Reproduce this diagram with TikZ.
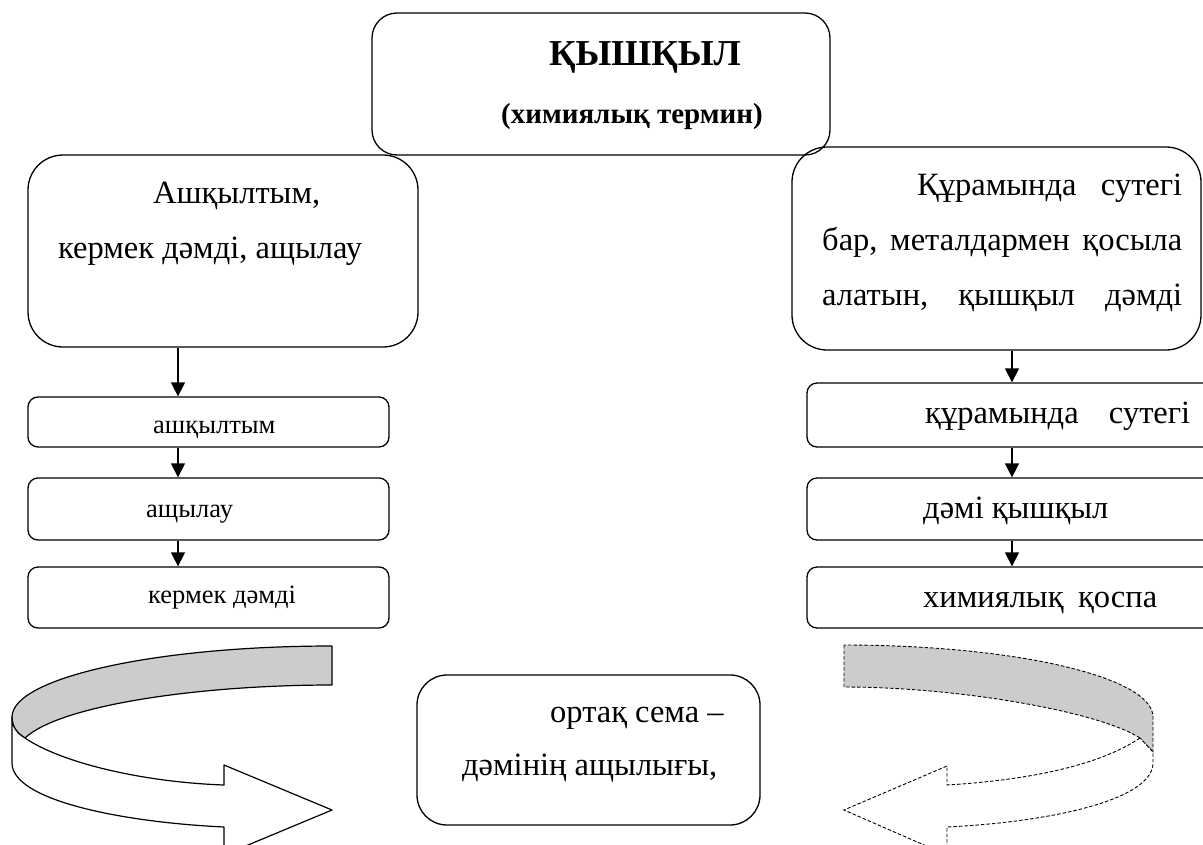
\documentclass[tikz,border=0pt]{standalone}
\usepackage{fontspec}
\setmainfont{Liberation Serif}
\usetikzlibrary{arrows.meta}
\tikzset{
  box/.style={draw, line width=1.3pt, rounded corners=#1, inner sep=0pt},
  box/.default=10pt,
  txt/.style={inner sep=0pt, anchor=base west},
  body/.style={font=\fontsize{32.5}{38}\selectfont},
  small/.style={font=\fontsize{26.5}{30}\selectfont},
  conn/.style={line width=1.3pt, -{Triangle[length=14pt,width=14pt]}},
  ribbon/.style={line width=1.2pt, line join=round},
  dribbon/.style={line width=0.9pt, dash pattern=on 3.5pt off 2pt},
}
\begin{document}
\begin{tikzpicture}[x=1pt,y=-1pt]
\useasboundingbox (0,0) rectangle (1203,844);
\clip (0,0) rectangle (1203,844);

% boxes
\node[box=25pt, minimum width=458pt, minimum height=142pt] (top) at (601,84) {};
\node[box=35pt, minimum width=390pt, minimum height=192pt] (lb) at (223,251) {};
\node[box=35pt, minimum width=409pt, minimum height=203pt] (rb) at (996.5,248.5) {};
\node[box, minimum width=361pt, minimum height=50pt] (l1) at (208.5,422) {};
\node[box, minimum width=361pt, minimum height=62pt] (l2) at (208.5,509) {};
\node[box, minimum width=361pt, minimum height=61pt] (l3) at (208.5,597.5) {};
\node[box, minimum width=408pt, minimum height=64pt] (r1) at (1011,415) {};
\node[box, minimum width=408pt, minimum height=62pt] (r2) at (1011,509) {};
\node[box, minimum width=408pt, minimum height=61pt] (r3) at (1011,597.5) {};
\node[box=30pt, minimum width=343pt, minimum height=150pt] (mid) at (588.5,750) {};

% texts
\node[inner sep=0pt, anchor=base, font=\fontsize{36.5}{40}\selectfont\bfseries] (title) at (645,65) {ҚЫШҚЫЛ};
\node[inner sep=0pt, anchor=base, font=\fontsize{29}{32}\selectfont\bfseries] (sub) at (632,123) {(химиялық термин)};

\node[txt, body] (lt1) at (153,203) {Ашқылтым,};
\node[txt, body] (lt2) at (58,258) {кермек дәмді, ащылау};

\node[txt, body] (rt1) at (917,195) {\makebox[265pt]{Құрамында\hfill сутегі}};
\node[txt, body] (rt2) at (822,250) {\makebox[360pt]{бар,\hfill металдармен\hfill қосыла}};
\node[txt, body] (rt3) at (822,305) {\makebox[360pt]{алатын,\hfill қышқыл\hfill дәмді}};

\node[txt, small] (l1t) at (153,433) {ашқылтым};
\node[txt, small] (l2t) at (146,517) {ащылау};
\node[txt, small] (l3t) at (148,603) {кермек дәмді};

\node[txt, body] (r1t) at (925,423) {\makebox[265pt]{құрамында\hfill сутегі}};
\node[txt, body] (r2t) at (923,518) {дәмі қышқыл};
\node[txt, body] (r3t) at (923,607) {\makebox[234pt]{химиялық\hfill қоспа}};

\node[txt, body] (m1) at (550,722) {ортақ сема –};
\node[txt, body] (m2) at (462,775) {дәмінің ащылығы,};

% connectors
\coordinate (lx) at (178,0);
\coordinate (rx) at (1012,0);
\draw[conn] (lx |- lb.south) -- (lx |- l1.north);
\draw[conn] (lx |- l1.south) -- (lx |- l2.north);
\draw[conn] (lx |- l2.south) -- (lx |- l3.north);
\draw[conn] (rx |- rb.south) -- (rx |- r1.north);
\draw[conn] (rx |- r1.south) -- (rx |- r2.north);
\draw[conn] (rx |- r2.south) -- (rx |- r3.north);

% left curved arrow (solid)
\filldraw[ribbon, fill=black!20] (332,646) -- (332,685)
  .. controls (200,685) and (60,705) .. (25,738)
  .. controls (17,733) and (12,727) .. (12,717)
  .. controls (12,678) and (155,646) .. (332,646) -- cycle;
\filldraw[ribbon, fill=white] (12,717)
  .. controls (12,727) and (17,733) .. (25,738)
  .. controls (60,762) and (140,782) .. (224,785)
  -- (224,765) -- (332,810) -- (224,855) -- (224,827)
  .. controls (120,822) and (12,800) .. (12,763) -- cycle;

% right curved arrow (dashed)
\filldraw[dribbon, fill=black!20] (844,645) -- (844,687)
  .. controls (960,687) and (1100,712) .. (1140,738)
  -- (1153,752) -- (1153,717)
  .. controls (1153,677) and (1015,645) .. (844,645) -- cycle;
\filldraw[dribbon, fill=white] (1140,738)
  .. controls (1100,765) and (1030,780) .. (947,785)
  -- (947,766) -- (844,810) -- (947,855) -- (947,827)
  .. controls (1050,822) and (1153,800) .. (1153,763)
  -- (1153,752) -- cycle;
\end{tikzpicture}
\end{document}
